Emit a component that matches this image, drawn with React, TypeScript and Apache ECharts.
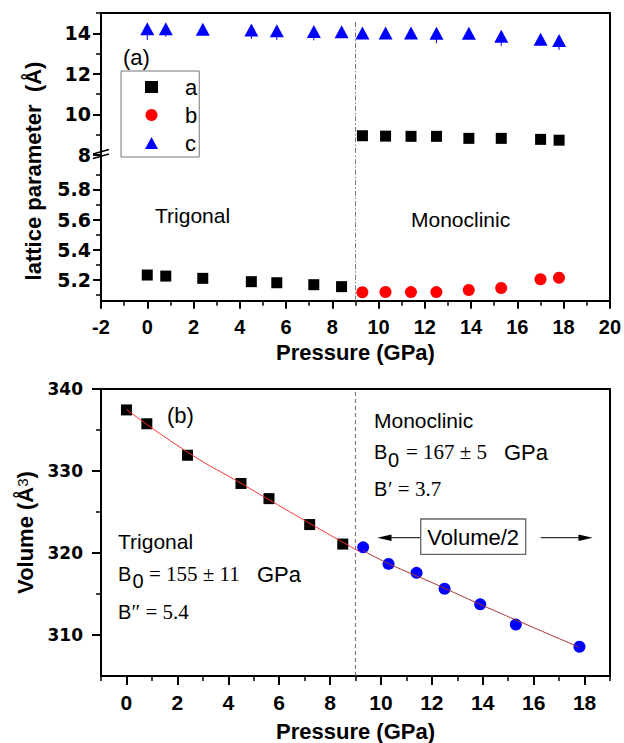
import React, { useEffect, useRef } from "react";
import * as echarts from "echarts";

// ---------- data ----------
// (a) lattice parameters
const pTrig = [0, 0.8, 2.4, 4.5, 5.6, 7.2, 8.4];
const aTrig = [5.233, 5.226, 5.211, 5.189, 5.182, 5.169, 5.156];
const pMono = [9.3, 10.3, 11.4, 12.5, 13.9, 15.3, 17.0, 17.8];
const aMono = [8.95, 8.93, 8.92, 8.92, 8.82, 8.82, 8.77, 8.73];
const bMono = [5.119, 5.121, 5.12, 5.12, 5.134, 5.147, 5.205, 5.215];
const pC = [0, 0.8, 2.4, 4.5, 5.6, 7.2, 8.4, 9.3, 10.3, 11.4, 12.5, 13.9, 15.3, 17.0, 17.8];
const cVals = [14.22, 14.22, 14.2, 14.16, 14.13, 14.09, 14.07, 14.01, 14.02, 14.02, 14.0, 14.0, 13.86, 13.7, 13.65];
const cErr = [0.55, 0.39, 0.3, 0.44, 0.46, 0.44, 0.25, 0.25, 0.25, 0.25, 0.49, 0.25, 0.48, 0.25, 0.47];

// (b) volume
const pVolTrig = [0, 0.8, 2.4, 4.5, 5.6, 7.2, 8.5];
const vTrig = [337.45, 335.76, 331.92, 328.48, 326.63, 323.47, 321.09];
const pVolMono = [9.3, 10.3, 11.4, 12.5, 13.9, 15.3, 17.8];
const vMono = [320.69, 318.67, 317.58, 315.64, 313.74, 311.27, 308.57];
const fitTrigP = [0, 2.4, 4.5, 5.6, 7.6, 9.2];
const fitTrigV = [337.5, 332.3, 328.5, 326.5, 322.9, 320.1];
const fitMonoP = [9.3, 10.3, 12, 14, 16, 17.8];
const fitMonoV = [320.3, 318.7, 316.4, 313.6, 310.9, 308.5];

const transitionP = 9;

// tick values
const yUpperMajor = [8, 10, 12, 14];
const yUpperMinor = [9, 11, 13, 15];
const yLowerMajor = [5.2, 5.4, 5.6, 5.8];
const yLowerMinor = [5.1, 5.3, 5.5, 5.7, 5.9];
const xBottomMajor = [0, 2, 4, 6, 8, 10, 12, 14, 16, 18];
const xBottomMinor = [-1, 1, 3, 5, 7, 9, 11, 13, 15, 17, 19];
const yBottomMajor = [310, 320, 330, 340];
const yBottomMinor = [315, 325, 335];

const SANS = "Liberation Sans, Arial, sans-serif";
const SERIF = "Liberation Serif, Times New Roman, serif";
const YTICK = "DejaVu Sans, sans-serif";

const axisLineBlack = { show: true, onZero: false, lineStyle: { color: "#000", width: 2 } };
const noSplit = { show: false };

function frameAxis(gridIndex: number, position: string, min: number, max: number) {
  return {
    type: "value",
    gridIndex,
    position,
    min,
    max,
    axisLine: axisLineBlack,
    axisTick: { show: false },
    axisLabel: { show: false },
    splitLine: noSplit,
  };
}

function minorAxis(gridIndex: number, position: string, min: number, max: number, vals: number[], len: number) {
  return {
    type: "value",
    gridIndex,
    position,
    min,
    max,
    axisLine: { show: false, onZero: false },
    axisTick: { show: true, customValues: vals, length: len, lineStyle: { color: "#000", width: 1.5 } },
    axisLabel: { show: false },
    splitLine: noSplit,
  };
}

function txt(x: number, y: number, text: string, size: number, family = SANS, extra: any = {}) {
  return {
    type: "text",
    x,
    y,
    silent: true,
    style: {
      text,
      fill: "#000",
      fontSize: size,
      fontFamily: family,
      align: "left",
      verticalAlign: "middle",
      ...extra,
    },
  };
}

export default function App() {
  const ref = useRef<HTMLDivElement>(null);

  useEffect(() => {
    if (!ref.current) return;
    const chart = echarts.init(ref.current, undefined, { renderer: "svg" });

    const upperMax = 15;
    const upperMin = 8;
    const lowerMin = 5.063;
    const lowerMax = 6.028;

    const option: any = {
      animation: false,
      backgroundColor: "#fff",
      grid: [
        { left: 101, top: 13, width: 509, height: 142 },
        { left: 101, top: 155, width: 509, height: 145.7 },
        { left: 101, top: 389, width: 509, height: 288.3 },
      ],
      legend: {
        data: ["a", "b", "c"],
        orient: "vertical",
        left: 121,
        top: 71,
        itemWidth: 13,
        itemHeight: 12,
        itemGap: 6,
        padding: [5, 2, 3, 24],
        borderColor: "#777",
        borderWidth: 1,
        selectedMode: false,
        textStyle: { fontFamily: SANS, fontSize: 22, color: "#000", padding: [0, 0, 0, 22] },
      },
      xAxis: [
        frameAxis(0, "top", -2, 20),
        {
          type: "value",
          gridIndex: 1,
          position: "bottom",
          min: -2,
          max: 20,
          interval: 2,
          axisLine: axisLineBlack,
          axisTick: { show: true, length: 8, lineStyle: { color: "#000", width: 2 } },
          minorTick: { show: true, splitNumber: 2, length: 5, lineStyle: { color: "#000", width: 1.5 } },
          axisLabel: { margin: 16, fontFamily: SANS, fontWeight: "bold", fontSize: 20, color: "#000" },
          splitLine: noSplit,
          minorSplitLine: noSplit,
          name: "Pressure (GPa)",
          nameLocation: "middle",
          nameGap: 41,
          nameTextStyle: { fontFamily: SANS, fontWeight: "bold", fontSize: 22, color: "#000" },
        },
        {
          type: "value",
          gridIndex: 2,
          position: "bottom",
          min: -1,
          max: 19,
          axisLine: axisLineBlack,
          axisTick: { show: true, customValues: xBottomMajor, length: 9, lineStyle: { color: "#000", width: 2 } },
          axisLabel: {
            customValues: xBottomMajor,
            margin: 16,
            fontFamily: SANS,
            fontWeight: "bold",
            fontSize: 21,
            color: "#000",
          },
          splitLine: noSplit,
          name: "Pressure (GPa)",
          nameLocation: "middle",
          nameGap: 44,
          nameTextStyle: { fontFamily: SANS, fontWeight: "bold", fontSize: 22, color: "#000" },
        },
        minorAxis(2, "bottom", -1, 19, xBottomMinor, 5),
        frameAxis(2, "top", -1, 19),
      ],
      yAxis: [
        {
          type: "value",
          gridIndex: 0,
          position: "left",
          min: upperMin,
          max: upperMax,
          axisLine: axisLineBlack,
          axisTick: { show: true, customValues: yUpperMajor, length: 8, lineStyle: { color: "#000", width: 2 } },
          axisLabel: { customValues: yUpperMajor, margin: 10, fontFamily: YTICK, fontWeight: "bold", fontSize: 19, color: "#000" },
          splitLine: noSplit,
        },
        minorAxis(0, "left", upperMin, upperMax, yUpperMinor, 5),
        frameAxis(0, "right", upperMin, upperMax),
        {
          type: "value",
          gridIndex: 1,
          position: "left",
          min: lowerMin,
          max: lowerMax,
          axisLine: axisLineBlack,
          axisTick: { show: true, customValues: yLowerMajor, length: 8, lineStyle: { color: "#000", width: 2 } },
          axisLabel: {
            customValues: yLowerMajor,
            margin: 10,
            fontFamily: YTICK,
            fontWeight: "bold",
            fontSize: 19,
            color: "#000",
            formatter: (v: number) => v.toFixed(1),
          },
          splitLine: noSplit,
        },
        minorAxis(1, "left", lowerMin, lowerMax, yLowerMinor, 5),
        frameAxis(1, "right", lowerMin, lowerMax),
        {
          type: "value",
          gridIndex: 2,
          position: "left",
          min: 305,
          max: 340,
          axisLine: axisLineBlack,
          axisTick: { show: true, customValues: yBottomMajor, length: 9, lineStyle: { color: "#000", width: 2 } },
          axisLabel: { customValues: yBottomMajor, margin: 18, fontFamily: YTICK, fontWeight: "bold", fontSize: 17, color: "#000" },
          splitLine: noSplit,
          name: "Volume (Å{sup|3})",
          nameLocation: "middle",
          nameGap: 60,
          nameRotate: 90,
          nameTextStyle: {
            fontFamily: SANS,
            fontWeight: "bold",
            fontSize: 22,
            color: "#000",
            rich: {
              sup: { fontFamily: SANS, fontSize: 15, fontWeight: "normal", color: "#000", verticalAlign: "top", lineHeight: 15 },
            },
          },
        },
        minorAxis(2, "left", 305, 340, yBottomMinor, 5),
        frameAxis(2, "right", 305, 340),
      ],
      series: [
        {
          type: "scatter",
          name: "a",
          xAxisIndex: 1,
          yAxisIndex: 3,
          symbol: "rect",
          symbolSize: 11,
          itemStyle: { color: "#000", opacity: 1 },
          data: pTrig.map((p, i) => [p, aTrig[i]]),
          markLine: {
            silent: true,
            symbol: ["none", "none"],
            label: { show: false },
            lineStyle: { color: "#7a7a7a", width: 1, type: [5, 2, 1.5, 2] },
            data: [{ xAxis: transitionP }],
          },
        },
        {
          type: "scatter",
          name: "a",
          xAxisIndex: 0,
          yAxisIndex: 0,
          symbol: "rect",
          symbolSize: 11,
          itemStyle: { color: "#000", opacity: 1 },
          data: pMono.map((p, i) => [p, aMono[i]]),
        },
        {
          type: "scatter",
          name: "b",
          xAxisIndex: 1,
          yAxisIndex: 3,
          symbol: "circle",
          symbolSize: 12,
          itemStyle: { color: "#ff0000", opacity: 1 },
          data: pMono.map((p, i) => [p, bMono[i]]),
        },
        {
          type: "custom",
          name: "c error",
          xAxisIndex: 0,
          yAxisIndex: 0,
          z: 1,
          silent: true,
          encode: { x: 0, y: 1 },
          data: pC.map((p, i) => [p, cVals[i], cErr[i]]),
          renderItem: (params: any, api: any) => {
            const x = api.value(0);
            const y = api.value(1);
            const e = api.value(2);
            const p1 = api.coord([x, y]);
            const p2 = api.coord([x, y - e]);
            return {
              type: "line",
              shape: { x1: p1[0], y1: p1[1], x2: p2[0], y2: p2[1] },
              style: { stroke: "#0000ff", lineWidth: 1 },
            };
          },
        },
        {
          type: "scatter",
          name: "c",
          xAxisIndex: 0,
          yAxisIndex: 0,
          z: 3,
          symbol: "triangle",
          symbolSize: [14, 13],
          itemStyle: { color: "#0000ff", opacity: 1 },
          data: pC.map((p, i) => [p, cVals[i]]),
          markLine: {
            silent: true,
            symbol: ["none", "none"],
            label: { show: false },
            lineStyle: { color: "#7a7a7a", width: 1, type: [5, 2, 1.5, 2] },
            data: [[{ coord: [transitionP, 14.56] }, { coord: [transitionP, upperMin] }]],
          },
        },
        {
          type: "line",
          name: "fit trigonal",
          xAxisIndex: 2,
          yAxisIndex: 6,
          symbol: "none",
          smooth: true,
          silent: true,
          lineStyle: { color: "#ff3030", width: 1 },
          data: fitTrigP.map((p, i) => [p, fitTrigV[i]]),
          markLine: {
            silent: true,
            symbol: ["none", "none"],
            label: { show: false },
            lineStyle: { color: "#7a7a7a", width: 1.2, type: [4, 3] },
            data: [{ xAxis: transitionP }],
          },
        },
        {
          type: "line",
          name: "fit monoclinic",
          xAxisIndex: 2,
          yAxisIndex: 6,
          symbol: "none",
          smooth: true,
          silent: true,
          lineStyle: { color: "#a83232", width: 1 },
          data: fitMonoP.map((p, i) => [p, fitMonoV[i]]),
        },
        {
          type: "scatter",
          name: "V trigonal",
          xAxisIndex: 2,
          yAxisIndex: 6,
          symbol: "rect",
          symbolSize: 11,
          itemStyle: { color: "#000", opacity: 1 },
          data: pVolTrig.map((p, i) => [p, vTrig[i]]),
        },
        {
          type: "scatter",
          name: "V monoclinic",
          xAxisIndex: 2,
          yAxisIndex: 6,
          symbol: "circle",
          symbolSize: 12,
          itemStyle: { color: "#0000ff", opacity: 1 },
          data: pVolMono.map((p, i) => [p, vMono[i]]),
        },
      ],
      graphic: [
        // y title of panel (a)
        {
          type: "text",
          x: 33,
          y: 171,
          rotation: Math.PI / 2,
          silent: true,
          style: {
            text: "lattice parameter  (Å)",
            fill: "#000",
            fontSize: 22,
            fontWeight: "bold",
            fontFamily: SANS,
            align: "center",
            verticalAlign: "middle",
          },
        },
        // axis break marks
        { type: "line", silent: true, shape: { x1: 93, y1: 154, x2: 109, y2: 149.5 }, style: { stroke: "#000", lineWidth: 1.5 } },
        { type: "line", silent: true, shape: { x1: 93, y1: 158.5, x2: 109, y2: 154 }, style: { stroke: "#000", lineWidth: 1.5 } },
        // panel (a) texts
        txt(123, 57.5, "(a)", 22),
        txt(155, 215, "Trigonal", 21),
        txt(411, 219, "Monoclinic", 21),
        // panel (b) texts
        txt(167, 415, "(b)", 22),
        txt(374, 420, "Monoclinic", 21),
        txt(374, 452.3, "B", 20),
        txt(388, 460, "0", 20),
        txt(406, 452.3, "= 167 ± 5", 21, SERIF),
        txt(504, 452.3, "GPa", 22),
        txt(374, 489.3, "B", 20),
        txt(388, 489.3, "′ = 3.7", 21, SERIF),
        txt(118, 541.5, "Trigonal", 21),
        txt(118, 574, "B", 20),
        txt(132.5, 581, "0", 20),
        txt(149, 574, "= 155 ± 11", 21, SERIF),
        txt(257, 574, "GPa", 22),
        txt(118, 611.7, "B", 20),
        txt(131.5, 611.7, "″ = 5.4", 21, SERIF),
        // Volume/2 box with arrows
        {
          type: "rect",
          silent: true,
          shape: { x: 420.7, y: 519, width: 105, height: 35.3 },
          style: { fill: "none", stroke: "#666", lineWidth: 1.3 },
        },
        {
          type: "text",
          x: 473.2,
          y: 537,
          silent: true,
          style: { text: "Volume/2", fill: "#000", fontSize: 22, fontFamily: SANS, align: "center", verticalAlign: "middle" },
        },
        { type: "line", silent: true, shape: { x1: 420, y1: 537.7, x2: 388, y2: 537.7 }, style: { stroke: "#000", lineWidth: 1 } },
        {
          type: "polygon",
          silent: true,
          shape: { points: [[377.3, 537.7], [391.5, 534.5], [391.5, 540.9]] },
          style: { fill: "#000" },
        },
        { type: "line", silent: true, shape: { x1: 540.7, y1: 537.7, x2: 582, y2: 537.7 }, style: { stroke: "#000", lineWidth: 1 } },
        {
          type: "polygon",
          silent: true,
          shape: { points: [[592.7, 537.7], [578.5, 534.5], [578.5, 540.9]] },
          style: { fill: "#000" },
        },
      ],
    };

    chart.setOption(option);
    return () => chart.dispose();
  }, []);

  return (
    <div
      ref={ref}
      style={{ position: "fixed", left: 0, top: 0, width: 624, height: 743, background: "#fff" }}
    />
  );
}
